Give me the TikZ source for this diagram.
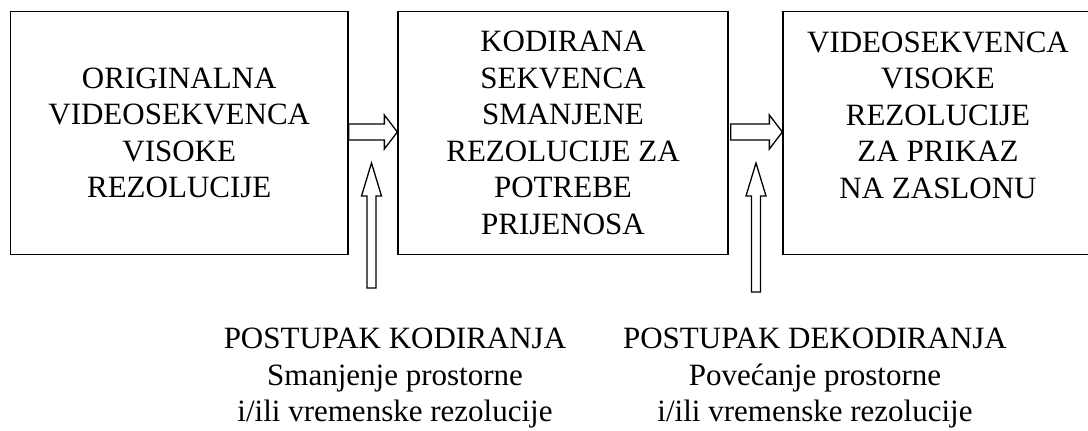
\documentclass[tikz,border=0pt]{standalone}
\usepackage{fontspec}
\setmainfont{Liberation Serif}
\usetikzlibrary{calc}
\begin{document}
\begin{tikzpicture}[x=0.5pt,y=-0.5pt,
    blok/.style={draw,line width=0.65pt,align=center,inner sep=0pt,
      minimum height=121.5pt,font=\fontsize{15.5}{18.25}\selectfont},
    opis/.style={align=center,inner sep=0pt,anchor=north,
      font=\fontsize{15.5}{18.25}\selectfont},
    strelica/.style={draw,line width=0.65pt,fill=white,line join=miter}]
      \clip (0,0) rectangle (1088,430);
      % blokovi
      \node[blok,minimum width=168.75pt] (orig) at (179.25,133)
        {ORIGINALNA\\VIDEOSEKVENCA\\VISOKE\\REZOLUCIJE};
      \node[blok,minimum width=165pt] (kod) at (563,133)
        {KODIRANA\\SEKVENCA\\SMANJENE\\REZOLUCIJE ZA\\POTREBE\\PRIJENOSA};
      \node[blok,minimum width=155pt] (vis) at (938,133)
        {VIDEOSEKVENCA\\VISOKE\\REZOLUCIJE\\ZA PRIKAZ\\NA ZASLONU\\\mbox{}};
      % vodoravne strelice
      \draw[strelica] ($(orig.east)+(0,-9)$) -- ($(kod.west)+(-13,-9)$)
        -- ($(kod.west)+(-13,-18)$) -- ($(kod.west)+(0,-1)$)
        -- ($(kod.west)+(-13,16)$) -- ($(kod.west)+(-13,7)$)
        -- ($(orig.east)+(0,7)$) -- cycle;
      \draw[strelica] ($(kod.east)+(2,-9)$) -- ($(vis.west)+(-13,-9)$)
        -- ($(vis.west)+(-13,-18)$) -- ($(vis.west)+(0,-1)$)
        -- ($(vis.west)+(-13,16)$) -- ($(vis.west)+(-13,7)$)
        -- ($(kod.east)+(2,7)$) -- cycle;
      % opisi postupaka
      \node[opis] (kodopis) at (395,328)
        {POSTUPAK KODIRANJA\\Smanjenje prostorne\\i/ili vremenske rezolucije};
      \node[opis] (dekopis) at (815,328)
        {POSTUPAK DEKODIRANJA\\Povećanje prostorne\\i/ili vremenske rezolucije};
      % okomite strelice
      \coordinate (kodrep) at (371.5,288);
      \coordinate (kodvrh) at (371.5,163);
      \coordinate (dekrep) at (756,292);
      \coordinate (dekvrh) at (756,163);
      \draw[strelica] ($(kodrep)+(-4.5,0)$) -- ($(kodvrh)+(-4.5,33)$)
        -- ($(kodvrh)+(-10,33)$) -- (kodvrh) -- ($(kodvrh)+(10,33)$)
        -- ($(kodvrh)+(4.5,33)$) -- ($(kodrep)+(4.5,0)$) -- cycle;
      \draw[strelica] ($(dekrep)+(-4.5,0)$) -- ($(dekvrh)+(-4.5,33)$)
        -- ($(dekvrh)+(-10,33)$) -- (dekvrh) -- ($(dekvrh)+(10,33)$)
        -- ($(dekvrh)+(4.5,33)$) -- ($(dekrep)+(4.5,0)$) -- cycle;
\end{tikzpicture}
\end{document}
